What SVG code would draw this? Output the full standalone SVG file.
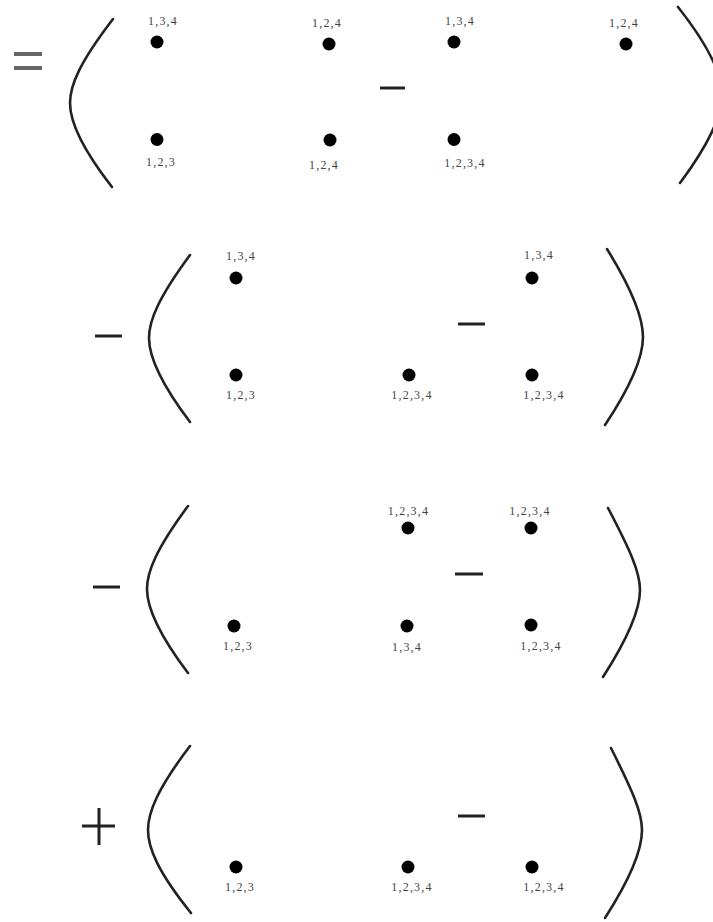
<svg xmlns="http://www.w3.org/2000/svg" width="713" height="922" viewBox="0 0 713 922">
<style>
.bg{fill:#ffffff}
.dot{fill:#000000}
.lbl{font-family:"Liberation Serif","DejaVu Serif",serif;font-size:12px;fill:#444444;text-anchor:middle;letter-spacing:1.2px}
.par{fill:none;stroke:#222222;stroke-width:2.6;stroke-linecap:round}
.op{fill:none;stroke:#222222;stroke-width:3}
.eq{fill:none;stroke:#666666;stroke-width:4}
</style>
<rect class="bg" x="0" y="0" width="713" height="922"/>
<g id="operators">
<line class="eq" x1="14" y1="54" x2="42" y2="54"/>
<line class="eq" x1="14" y1="68" x2="42" y2="68"/>
<line class="op" x1="380" y1="88" x2="405" y2="88"/>
<line class="op" x1="95" y1="336" x2="122" y2="336"/>
<line class="op" x1="458" y1="324" x2="485" y2="324"/>
<line class="op" x1="93" y1="587" x2="120" y2="587"/>
<line class="op" x1="455" y1="574" x2="483" y2="574"/>
<line class="op" x1="82" y1="826" x2="115" y2="826"/>
<line class="op" x1="99" y1="808" x2="99" y2="845"/>
<line class="op" x1="458" y1="816" x2="485" y2="816"/>
</g>
<g id="brackets">
<path class="par" d="M113,19 C80,62 70,85 70,103 C70,121 80,146 112,187"/>
<path class="par" d="M678,7 C712,50 722,77 722,95 C722,113 712,140 680,183"/>
<path class="par" d="M190,255 C159,297 149,320 149,338 C149,356 159,381 190,422"/>
<path class="par" d="M607,249 C633,291 643,319 643,337 C643,355 633,383 605,425"/>
<path class="par" d="M188,506 C157,548 147,571 147,589 C147,607 157,632 188,673"/>
<path class="par" d="M608,508 C630,550 640,572 640,590 C640,608 630,635 603,677"/>
<path class="par" d="M190,746 C158,788 148,812 148,830 C148,848 158,872 191,913"/>
<path class="par" d="M611,748 C632,790 642,812 642,830 C642,848 632,876 605,918"/>
</g>
<g id="connectors"></g>
<g id="r1n1"><circle class="dot" cx="157" cy="42" r="6.5"/><text class="lbl" x="163" y="25">1,3,4</text></g>
<g id="r1n2"><circle class="dot" cx="157" cy="139.5" r="6.5"/><text class="lbl" x="161" y="166">1,2,3</text></g>
<g id="r1n3"><circle class="dot" cx="329" cy="44" r="6.5"/><text class="lbl" x="327" y="27">1,2,4</text></g>
<g id="r1n4"><circle class="dot" cx="330" cy="140" r="6.5"/><text class="lbl" x="324" y="169">1,2,4</text></g>
<g id="r1n5"><circle class="dot" cx="454" cy="42" r="6.5"/><text class="lbl" x="460" y="25">1,3,4</text></g>
<g id="r1n6"><circle class="dot" cx="454" cy="139.5" r="6.5"/><text class="lbl" x="465" y="167">1,2,3,4</text></g>
<g id="r1n7"><circle class="dot" cx="626" cy="44" r="6.5"/><text class="lbl" x="624" y="27">1,2,4</text></g>
<g id="r2n1"><circle class="dot" cx="236" cy="278" r="6.5"/><text class="lbl" x="241" y="260">1,3,4</text></g>
<g id="r2n2"><circle class="dot" cx="236" cy="375" r="6.5"/><text class="lbl" x="241" y="399">1,2,3</text></g>
<g id="r2n3"><circle class="dot" cx="409" cy="375" r="6.5"/><text class="lbl" x="412" y="399">1,2,3,4</text></g>
<g id="r2n4"><circle class="dot" cx="532" cy="278" r="6.5"/><text class="lbl" x="539" y="259">1,3,4</text></g>
<g id="r2n5"><circle class="dot" cx="532" cy="375" r="6.5"/><text class="lbl" x="544" y="399">1,2,3,4</text></g>
<g id="r3n1"><circle class="dot" cx="408" cy="528" r="6.5"/><text class="lbl" x="408.5" y="515">1,2,3,4</text></g>
<g id="r3n2"><circle class="dot" cx="531" cy="528" r="6.5"/><text class="lbl" x="530" y="515">1,2,3,4</text></g>
<g id="r3n3"><circle class="dot" cx="234" cy="626" r="6.5"/><text class="lbl" x="238" y="650">1,2,3</text></g>
<g id="r3n4"><circle class="dot" cx="407" cy="626" r="6.5"/><text class="lbl" x="407" y="651">1,3,4</text></g>
<g id="r3n5"><circle class="dot" cx="531" cy="625" r="6.5"/><text class="lbl" x="541" y="650">1,2,3,4</text></g>
<g id="r4n1"><circle class="dot" cx="236" cy="867" r="6.5"/><text class="lbl" x="240" y="891">1,2,3</text></g>
<g id="r4n2"><circle class="dot" cx="408" cy="867" r="6.5"/><text class="lbl" x="412" y="891">1,2,3,4</text></g>
<g id="r4n3"><circle class="dot" cx="532" cy="867" r="6.5"/><text class="lbl" x="544" y="891">1,2,3,4</text></g>
</svg>
